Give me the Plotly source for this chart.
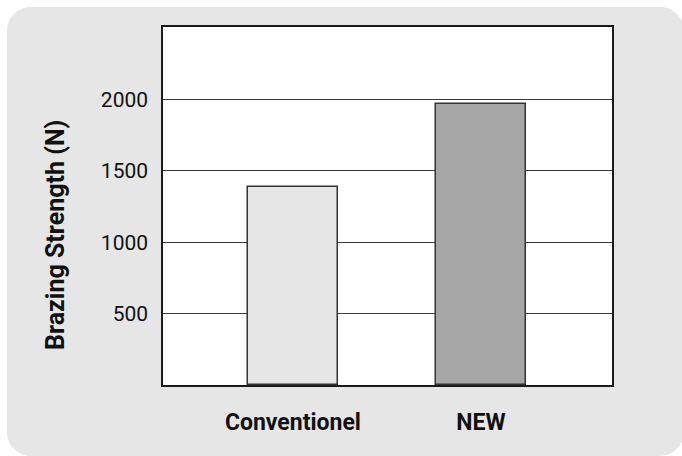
import plotly.graph_objects as go

# Data
categories = ["Conventionel", "NEW"]
strength_n = [1385, 1970]
bar_colors = ["#e6e6e6", "#a6a6a6"]
y_ticks = [500, 1000, 1500, 2000]
y_title = "Brazing Strength (N)"

W, H = 682, 456
PANEL = "#e6e6e6"
FONT = "Roboto, Liberation Sans, Arial, sans-serif"

# Plot area in pixels
PL, PR, PT, PB = 163, 612, 27, 385.3


def px(x):
    return x / W


def py(y):
    return 1 - y / H


def rounded_rect(x0, y0, x1, y1, r):
    k = 0.5523 * r
    pts = [
        f"M {px(x0 + r)},{py(y0)}",
        f"L {px(x1 - r)},{py(y0)}",
        f"C {px(x1 - r + k)},{py(y0)} {px(x1)},{py(y0 + r - k)} {px(x1)},{py(y0 + r)}",
        f"L {px(x1)},{py(y1 - r)}",
        f"C {px(x1)},{py(y1 - r + k)} {px(x1 - r + k)},{py(y1)} {px(x1 - r)},{py(y1)}",
        f"L {px(x0 + r)},{py(y1)}",
        f"C {px(x0 + r - k)},{py(y1)} {px(x0)},{py(y1 - r + k)} {px(x0)},{py(y1 - r)}",
        f"L {px(x0)},{py(y0 + r)}",
        f"C {px(x0)},{py(y0 + r - k)} {px(x0 + r - k)},{py(y0)} {px(x0 + r)},{py(y0)}",
        "Z",
    ]
    return " ".join(pts)


fig = go.Figure(
    go.Bar(
        x=categories,
        y=strength_n,
        width=0.48,
        marker=dict(color=bar_colors, line=dict(color="#333333", width=1.5)),
        showlegend=False,
    )
)

fig.update_layout(
    width=W,
    height=H,
    margin=dict(l=0, r=0, t=0, b=0),
    paper_bgcolor="white",
    plot_bgcolor="white",
    bargap=0,
    shapes=[
        dict(type="path", xref="paper", yref="paper", layer="below",
             path=rounded_rect(7, 7, 684, 456, 24),
             fillcolor=PANEL, line=dict(width=0)),
        dict(type="rect", xref="paper", yref="paper", layer="below",
             x0=px(PL), x1=px(PR), y0=py(PB), y1=py(PT),
             fillcolor="white", line=dict(width=0)),
    ],
    # Y-axis title, placed a little below the plot's vertical centre
    annotations=[
        dict(text=y_title, textangle=-90, xref="paper", yref="paper",
             x=px(55), y=py(235), xanchor="center", yanchor="middle",
             showarrow=False,
             font=dict(family=FONT, size=25, color="#111111", weight="bold")),
    ],
    xaxis=dict(
        domain=[px(PL), px(PR)],
        range=[-0.691, 1.697],
        showgrid=False,
        showline=True, mirror=True, linecolor="#1a1a1a", linewidth=1.5,
        ticks="",
        ticklabelstandoff=15,
        tickfont=dict(family=FONT, size=23, color="#111111", weight="bold"),
    ),
    yaxis=dict(
        domain=[py(PB), py(PT)],
        range=[0, 2505],
        tickvals=y_ticks,
        showgrid=True, gridcolor="#3a3a3a", gridwidth=1,
        zeroline=False,
        showline=True, mirror=True, linecolor="#1a1a1a", linewidth=1.5,
        ticks="",
        ticklabelstandoff=9,
        tickfont=dict(family=FONT, size=21, color="#111111"),
    ),
)

fig.write_html("out.html")
